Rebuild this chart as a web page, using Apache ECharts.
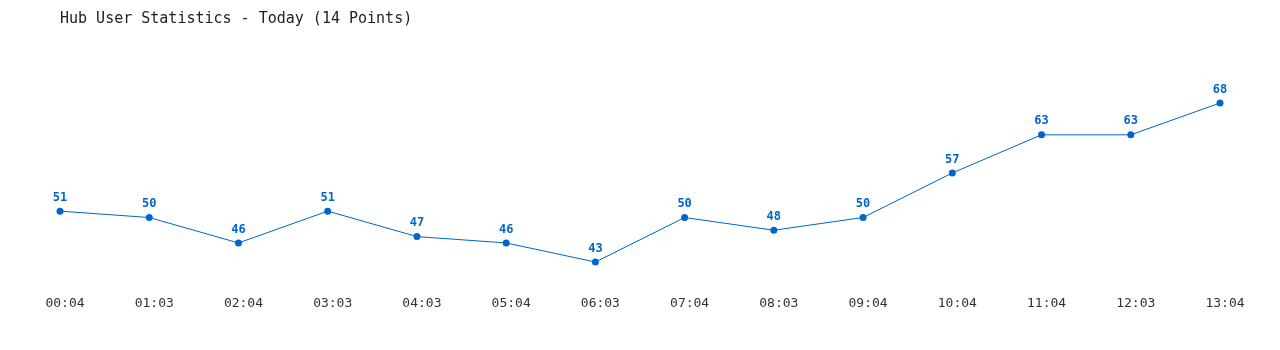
<!DOCTYPE html>
<html>
<head>
<meta charset="utf-8">
<script src="https://cdn.jsdelivr.net/npm/echarts@6/dist/echarts.min.js"></script>
<style>
html,body{margin:0;padding:0;background:#fff;}
#chart{width:1280px;height:350px;}
</style>
</head>
<body>
<div id="chart"></div>
<script>
const titleText = "Hub User Statistics - Today (14 Points)";
const categories = ["00:04","01:03","02:04","03:03","04:03","05:04","06:03","07:04","08:03","09:04","10:04","11:04","12:03","13:04"];
const users = [51,50,46,51,47,46,43,50,48,50,57,63,63,68];

const chart = echarts.init(document.getElementById('chart'), null, {renderer:'canvas'});
chart.setOption({
  animation:false,
  backgroundColor:'#fff',
  title:{
    text:titleText,
    left:55, top:7,
    textStyle:{fontFamily:'DejaVu Sans Mono', fontSize:15, fontWeight:'normal', color:'#222'}
  },
  grid:{left:60, right:60, top:90.3, bottom:68.9, containLabel:false},
  xAxis:{
    type:'category',
    data:categories,
    boundaryGap:false,
    axisLine:{show:false},
    axisTick:{show:false},
    splitLine:{show:false},
    axisLabel:{margin:16, padding:[0,0,0,10], fontFamily:'DejaVu Sans Mono', fontSize:13, color:'#333'}
  },
  yAxis:{
    type:'value', min:40, max:70,
    show:false,
    splitLine:{show:false}
  },
  series:[{
    type:'line',
    data:users,
    symbol:'circle',
    symbolSize:7,
    lineStyle:{color:'#0066cc', width:1},
    itemStyle:{color:'#0066cc'},
    label:{show:true, position:'top', distance:4, color:'#0066cc', fontWeight:'bold', fontSize:12, fontFamily:'DejaVu Sans Mono'}
  }]
});
</script>
</body>
</html>
